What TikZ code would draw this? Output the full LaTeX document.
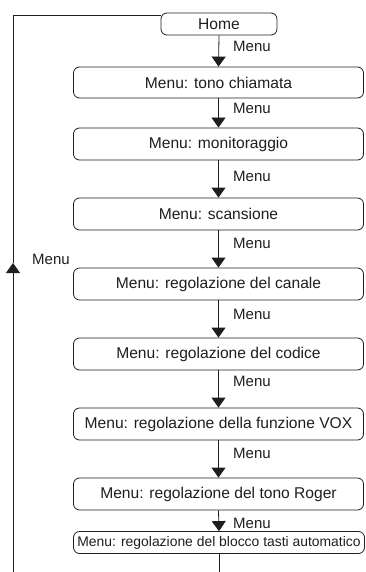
\documentclass[tikz,border=0pt]{standalone}
\usepackage{fontspec}
\setmainfont{Liberation Sans}
\usetikzlibrary{arrows.meta}
\definecolor{ink}{HTML}{1E1E1E}
\begin{document}
\begin{tikzpicture}[x=1pt,y=-1pt,
  every node/.style={text=ink},
  menubox/.style={draw=ink,line width=0.8pt,rounded corners=6pt,minimum width=290pt,minimum height=31pt,inner sep=0pt,font=\fontsize{15.6}{17}\selectfont},
  flow/.style={draw=ink,line width=0.8pt,-{Triangle[width=14pt,length=10pt]}},
  lbl/.style={anchor=west,inner sep=0pt,font=\fontsize{15}{17}\selectfont}]
\useasboundingbox (0,0) rectangle (366,572);
\node[menubox,minimum width=116pt,minimum height=22pt] (home) at (219,24) {Home};
\node[menubox] (b1) at (218.5,82.5) {Menu: tono chiamata};
\node[menubox,minimum height=32pt] (b2) at (218.5,144) {Menu: monitoraggio};
\node[menubox,minimum height=32pt] (b3) at (218.5,214) {Menu: scansione};
\node[menubox,minimum height=32pt] (b4) at (218.5,284) {Menu: regolazione del canale};
\node[menubox,minimum height=32pt] (b5) at (218.5,354) {Menu: regolazione del codice};
\node[menubox,minimum height=32pt] (b6) at (218.5,424) {Menu: regolazione della funzione VOX};
\node[menubox,minimum height=32pt] (b7) at (218.5,494) {Menu: regolazione del tono Roger};
\node[menubox,minimum height=22pt,minimum width=291pt,font=\fontsize{13.9}{16}\selectfont] (b8) at (219,542.5) {Menu: regolazione del blocco tasti automatico};
\draw[flow] (home.south) -- (b1.north);
\draw[flow] (b1.south) -- (b2.north);
\draw[flow] (b2.south) -- (b3.north);
\draw[flow] (b3.south) -- (b4.north);
\draw[flow] (b4.south) -- (b5.north);
\draw[flow] (b5.south) -- (b6.north);
\draw[flow] (b6.south) -- (b7.north);
\draw[flow] (b7.south) -- (b8.north);
\node[lbl] (m1) at (233,46) {Menu};
\node[lbl] (m2) at (233,108) {Menu};
\node[lbl] (m3) at (233,176) {Menu};
\node[lbl] (m4) at (233,243) {Menu};
\node[lbl] (m5) at (233,314) {Menu};
\node[lbl] (m6) at (233,381) {Menu};
\node[lbl] (m7) at (233,453) {Menu};
\node[lbl] (m8) at (233,523) {Menu};
\coordinate (bot) at (219,572);
\draw[draw=ink,line width=0.8pt] (b8.south) -- (bot);
\coordinate (lb) at (13,572);
\coordinate (la) at (13,263);
\coordinate (lt) at (13,15);
\draw[flow] (lb) -- (la);
\draw[draw=ink,line width=0.8pt] (la) -- (lt) -- (lt -| home.west);
\node[lbl] (ml) at (32,259) {Menu};
\end{tikzpicture}
\end{document}
